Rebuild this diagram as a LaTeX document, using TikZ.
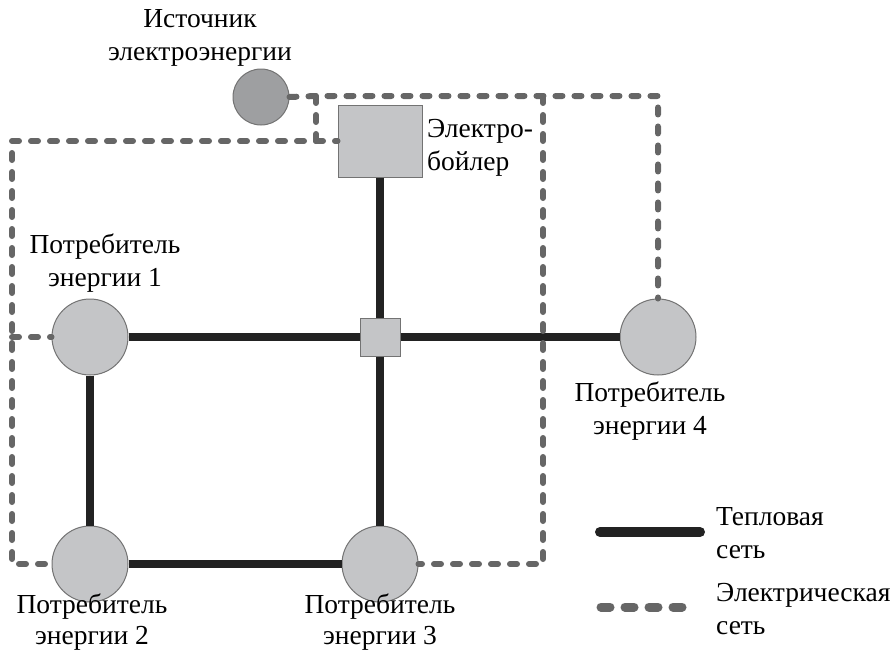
\documentclass[tikz,border=0pt]{standalone}
\usepackage{fontspec}
\setmainfont{Liberation Serif}
\definecolor{elecgray}{HTML}{666666}
\definecolor{nodefill}{HTML}{C4C5C7}
\definecolor{srcfill}{HTML}{9E9FA1}
\definecolor{heatcol}{HTML}{222222}
\begin{document}
\begin{tikzpicture}[x=1pt,y=-1pt,
  consumer/.style={circle, draw=black!55, fill=nodefill, line width=1pt, minimum size=76pt, inner sep=0pt},
  heat/.style={line width=8pt, draw=heatcol},
  elec/.style={line width=6pt, draw=elecgray, line cap=round, dash pattern=on 7pt off 12pt},
  lbl/.style={align=center, font=\fontsize{27.5}{33}\selectfont, inner sep=0pt},
  lbll/.style={align=left, font=\fontsize{27.5}{33}\selectfont, inner sep=0pt, anchor=west}]
\useasboundingbox (0,0) rectangle (896,653);

% nodes
\node[circle, draw=black!55, fill=srcfill, line width=1pt, minimum size=56pt, inner sep=0pt] (src) at (261,97) {};
\node[draw=black!55, fill=nodefill, line width=1pt, minimum width=84pt, minimum height=72pt, inner sep=0pt] (boiler) at (380,141) {};
\node[draw=black!55, fill=nodefill, line width=1pt, minimum width=40pt, minimum height=38pt, inner sep=0pt] (hub) at (380,337) {};
\node[consumer] (c1) at (90,337) {};
\node[consumer] (c2) at (90,564) {};
\node[consumer] (c3) at (380,564) {};
\node[consumer] (c4) at (658,337) {};

% corner coordinates of the electric network
\coordinate (e1) at (316,96);
\coordinate (e2) at (658,96);
\coordinate (e3) at (543,96);
\coordinate (e4) at (543,564);
\coordinate (e5) at (316,141);
\coordinate (e6) at (12,141);
\coordinate (e7) at (12,564);
\coordinate (e8) at (12,337);

% heat network
\draw[heat] (boiler.south) -- (hub.north);
\draw[heat] (c1.east) -- (hub.west);
\draw[heat] (hub.east) -- (c4.west);
\draw[heat] (hub.south) -- (c3.north);
\draw[heat] (c1.south) -- (c2.north);
\draw[heat] (c2.east) -- (c3.west);

% electric network
\draw[elec] (src.east) -- (e1) -- (e2) -- (c4.north);
\draw[elec] (e3) -- (e4) -- (c3.east);
\draw[elec] (e1) -- (e5) -- (e6) -- (e7) -- (c2.west);
\draw[elec] (e5) -- (boiler.west);
\draw[elec] (e8) -- (c1.west);

% labels
\node[lbl] (tsrc) at (200,38) {Источник\\электроэнергии};
\node[lbll] (tboil) at (427,148) {Электро-\\бойлер};
\node[lbl] (t1) at (105,263) {Потребитель\\энергии 1};
\node[lbl] (t4) at (650,411) {Потребитель\\энергии 4};
\node[lbl, font=\fontsize{27.5}{31}\selectfont] (t2) at (92,622) {Потребитель\\энергии 2};
\node[lbl, font=\fontsize{27.5}{31}\selectfont] (t3) at (380,622) {Потребитель\\энергии 3};

% legend
\coordinate (lh1) at (600,532);
\coordinate (lh2) at (700,532);
\coordinate (le1) at (601,607);
\coordinate (le2) at (692,607);
\draw[line width=10pt, draw=heatcol, line cap=round] (lh1) -- (lh2);
\draw[line width=9pt, draw=elecgray, line cap=round, dash pattern=on 9pt off 15pt] (le1) -- (le2);
\node[lbll] (theat) at (716,533) {Тепловая\\сеть};
\node[lbll] (telec) at (716,609) {Электрическая\\сеть};
\end{tikzpicture}
\end{document}
